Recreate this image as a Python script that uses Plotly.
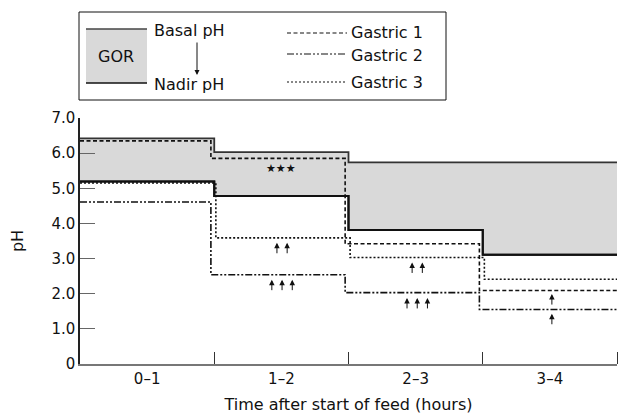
import plotly.graph_objects as go

# time periods (hours after start of feed)
periods = ["0–1", "1–2", "2–3", "3–4"]
edges = [0, 1, 2, 3, 4]

# pH per hour
basal_ph = [6.42, 6.03, 5.74, 5.74]
nadir_ph = [5.19, 4.78, 3.81, 3.11]
gastric_1 = [6.35, 5.85, 3.42, 2.09]
gastric_2 = [4.61, 2.54, 2.03, 1.55]
gastric_3 = [5.15, 3.59, 3.03, 2.41]

# significance arrows: centre (hours), arrow tip (pH), number of arrows
arrow_x = [1.505, 1.505, 2.512, 2.512, 3.515, 3.515]
arrow_tip = [3.45, 2.40, 2.89, 1.88, 1.99, 1.43]
arrow_n = [2, 3, 2, 3, 1, 1]

star_x, star_y, star_text = 1.5, 5.57, "★★★"

y_ticks = [0, 1, 2, 3, 4, 5, 6, 7]
y_labels = ["0", "1.0", "2.0", "3.0", "4.0", "5.0", "6.0", "7.0"]

FONT = "DejaVu Sans"
W, H = 618, 417
L, R, T, B = 80, 1, 118, 53
PW, PH = W - L - R, H - T - B


def px(x):
    return (x - L) / PW


def py(y):
    return (H - B - y) / PH


def step(vals, shift=0.0):
    xs = [edges[0]] + [e + shift for e in edges[1:-1]] + [edges[-1]]
    return xs, list(vals) + [vals[-1]]


fig = go.Figure()

x, y = step(nadir_ph)
fig.add_trace(go.Scatter(x=x, y=y, mode="lines", line_shape="hv",
                         line=dict(color="#111", width=2), showlegend=False))
x, y = step(basal_ph)
fig.add_trace(go.Scatter(x=x, y=y, mode="lines", line_shape="hv", fill="tonexty",
                         fillcolor="#d9d9d9", line=dict(color="#333", width=1.8),
                         showlegend=False))
# redraw nadir on top of the fill
x, y = step(nadir_ph)
fig.add_trace(go.Scatter(x=x, y=y, mode="lines", line_shape="hv",
                         line=dict(color="#111", width=2), showlegend=False))

styles = [
    (gastric_1, "4px,2.5px", -0.025),
    (gastric_2, "7px,2px,2px,2px,2px,2px", -0.025),
    (gastric_3, "2px,2px", 0.012),
]
for vals, dash, shift in styles:
    x, y = step(vals, shift)
    fig.add_trace(go.Scatter(x=x, y=y, mode="lines", line_shape="hv",
                             line=dict(color="#111", width=1.6, dash=dash),
                             showlegend=False))

ann = []
spacing = 0.076
for cx, tip, n in zip(arrow_x, arrow_tip, arrow_n):
    for i in range(n):
        ann.append(dict(x=cx + (i - (n - 1) / 2) * spacing, y=tip, xref="x", yref="y",
                        text="", showarrow=True, ax=0, ay=12, arrowhead=2,
                        arrowsize=1.1, arrowwidth=1, arrowcolor="#111"))
ann.append(dict(x=star_x, y=star_y, text=star_text, showarrow=False,
                font=dict(size=11, color="#111", family="DejaVu Sans")))

# legend box
shapes = [
    dict(type="rect", xref="paper", yref="paper", x0=px(79), x1=px(446), y0=py(100), y1=py(12),
         line=dict(color="#111", width=1), fillcolor="white"),
    dict(type="rect", xref="paper", yref="paper", x0=px(86), x1=px(147), y0=py(83), y1=py(29),
         line=dict(width=0), fillcolor="#d9d9d9"),
    dict(type="line", xref="paper", yref="paper", x0=px(86), x1=px(147), y0=py(29), y1=py(29),
         line=dict(color="#444", width=1.5)),
    dict(type="line", xref="paper", yref="paper", x0=px(86), x1=px(147), y0=py(83), y1=py(83),
         line=dict(color="#111", width=1.5)),
]
for (_, dash, _), yy in zip(styles, [33, 54, 82]):
    shapes.append(dict(type="line", xref="paper", yref="paper", x0=px(287), x1=px(347),
                       y0=py(yy), y1=py(yy), line=dict(color="#111", width=1.2, dash=dash)))

lf = dict(family=FONT, size=16, color="#111")
ann += [
    dict(x=px(116), y=py(56), xref="paper", yref="paper", text="GOR", showarrow=False,
         xanchor="center", yanchor="middle", font=lf),
    dict(x=px(152), y=py(30), xref="paper", yref="paper", text="Basal pH", showarrow=False,
         xanchor="left", yanchor="middle", font=lf),
    dict(x=px(152), y=py(84), xref="paper", yref="paper", text="Nadir pH", showarrow=False,
         xanchor="left", yanchor="middle", font=lf),
    dict(x=px(197), y=py(75), xref="paper", yref="paper", ax=0, ay=-34, text="", showarrow=True,
         arrowhead=2, arrowsize=1, arrowwidth=1, arrowcolor="#111"),
]
for name, yy in zip(["Gastric 1", "Gastric 2", "Gastric 3"], [32, 55, 82]):
    ann.append(dict(x=px(349), y=py(yy), xref="paper", yref="paper", text=name,
                    showarrow=False, xanchor="left", yanchor="middle", font=lf))

fig.update_layout(
    width=W, height=H,
    margin=dict(l=L, r=R, t=T, b=B, autoexpand=False),
    paper_bgcolor="white", plot_bgcolor="white",
    font=dict(family=FONT, size=15, color="#111"),
    shapes=shapes, annotations=ann,
    xaxis=dict(range=[0, 4], tickvals=[0.5, 1.5, 2.5, 3.5], ticktext=periods, ticks="",
               showgrid=False, zeroline=False, showline=True, linecolor="#777", linewidth=1.5,
               minor=dict(tickmode="array", tickvals=[1, 2, 3, 4], ticks="inside", ticklen=12,
                          tickcolor="#333", tickwidth=1, showgrid=False),
               tickfont=dict(size=15), title=dict(text="Time after start of feed (hours)",
                                                  font=dict(size=16), standoff=12)),
    yaxis=dict(range=[0, 7], tickvals=y_ticks, ticktext=y_labels, ticks="inside", ticklen=15,
               tickcolor="#666", tickwidth=1.2, showgrid=False, zeroline=False,
               showline=True, linecolor="#222", linewidth=1.5, tickfont=dict(size=15),
               title=dict(text="pH", font=dict(size=16), standoff=24)),
)

fig.write_html("out.html", config={"displayModeBar": False},
               post_script="document.body.style.margin='0';")
